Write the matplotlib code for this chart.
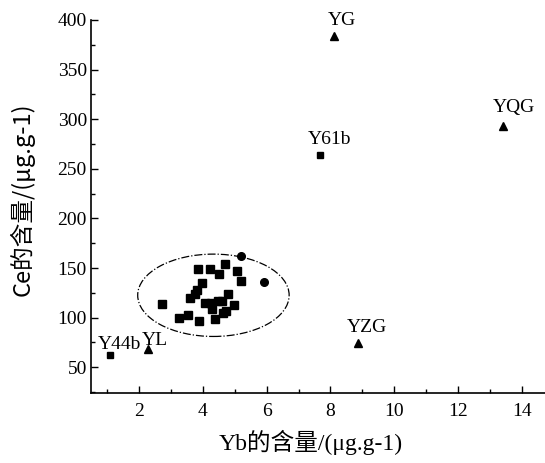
import numpy as np
import matplotlib.pyplot as plt
from matplotlib.patches import Ellipse
from matplotlib.ticker import MultipleLocator

plt.rcParams['font.family'] = ['Liberation Serif', 'Noto Sans CJK SC']

# ---- data ----
# clustered samples (squares)
sq_x = [3.86, 4.22, 4.49, 4.70, 5.07, 5.20, 3.97, 3.83, 3.76, 3.59, 4.80,
        4.08, 4.25, 4.46, 4.60, 4.96, 4.28, 4.73, 4.62, 2.71, 3.26, 3.53,
        3.89, 4.39]
sq_y = [148.5, 148.5, 143.8, 153.9, 147.1, 137.0, 134.4, 127.7, 124.3, 119.3,
        123.6, 114.9, 114.9, 116.9, 116.9, 112.5, 108.2, 106.8, 104.2, 113.5,
        100.1, 102.4, 96.4, 98.4]
# circles
ci_x = [5.18, 5.91]
ci_y = [162.0, 135.4]

# labelled squares
lsq_names = ["Y61b", "Y44b"]
lsq_x = [7.66, 1.09]
lsq_y = [264.0, 62.0]

# labelled triangles
tri_names = ["YG", "YQG", "YZG", "YL"]
tri_x = [8.10, 13.40, 8.86, 2.28]
tri_y = [384.0, 293.0, 74.0, 68.0]

# label offsets in pixels (dx, dy)
offsets = {"Y61b": (10, 15), "Y44b": (9, 11), "YG": (8, 15),
           "YQG": (11, 19), "YZG": (9, 16), "YL": (7, 9)}

# ellipse around the cluster
ell_center = (4.33, 122.5)
ell_w, ell_h = 4.75, 83.0

fig = plt.figure(figsize=(5.45, 4.63), dpi=100)
ax = fig.add_axes([91 / 545, 70 / 463, 454 / 545, 373 / 463])

ax.plot(sq_x, sq_y, 's', color='black', markersize=5.5, linestyle='none')
ax.plot(ci_x, ci_y, 'o', color='black', markersize=5.5, linestyle='none')
ax.plot(lsq_x, lsq_y, 's', color='black', markersize=5, linestyle='none')
ax.plot(tri_x, tri_y, '^', color='black', markersize=5.5, linestyle='none')

for name, x, y in zip(lsq_names + tri_names, lsq_x + tri_x, lsq_y + tri_y):
    dx, dy = offsets[name]
    ax.annotate(name, (x, y), xytext=(dx, dy), textcoords='offset pixels',
                ha='center', va='center', fontsize=14)

ax.add_patch(Ellipse(ell_center, ell_w, ell_h, fill=False, edgecolor='black',
                     linestyle='-.', linewidth=0.9))

ax.set_xlim(0.49, 14.73)
ax.set_ylim(24, 400)
ax.xaxis.set_minor_locator(MultipleLocator(1))
ax.yaxis.set_minor_locator(MultipleLocator(25))
ax.set_xticks(np.arange(2, 15, 2))
ax.set_yticks(np.arange(50, 401, 50))

for s in ['top', 'right']:
    ax.spines[s].set_visible(False)
for s in ['left', 'bottom']:
    ax.spines[s].set_linewidth(1.2)

ax.tick_params(which='major', direction='in', length=5, width=1, labelsize=14)
ax.tick_params(axis='y', which='major', pad=3)
ax.tick_params(axis='x', which='major', pad=7)
ax.tick_params(which='minor', direction='in', length=3, width=1)

ax.set_xlabel("Yb的含量/(μg.g-1)", fontsize=17)
ax.xaxis.set_label_coords(0.485, -0.098)
ax.set_ylabel("Ce的含量/(μg.g-1)", fontsize=17,
              family=['Noto Sans CJK SC', 'DejaVu Sans'])
ax.yaxis.set_label_coords(-0.125, 0.52)

fig.savefig("out.png", dpi=100)
